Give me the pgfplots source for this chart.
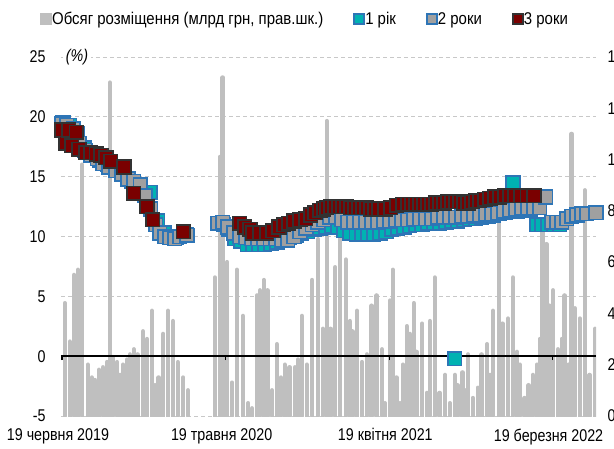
\documentclass[border=0pt]{standalone}
\usepackage{fontspec}
\setmainfont{Liberation Sans}[FakeStretch=0.84]
\newfontfamily\legfont{Liberation Sans}[FakeStretch=0.88]
\usepackage{pgfplots}
\pgfplotsset{compat=1.18}
\definecolor{barg}{RGB}{191,191,191}
\definecolor{teal1}{RGB}{0,178,178}
\definecolor{blueb}{RGB}{46,117,182}
\definecolor{grey2}{RGB}{160,160,160}
\definecolor{red3}{RGB}{122,0,0}
\definecolor{redb}{RGB}{50,50,50}
\definecolor{gridc}{RGB}{200,200,200}
\pgfplotsset{base/.style={scale only axis, width=535pt, height=359pt,
  xmin=-2, xmax=1093, at={(0pt,0pt)}, anchor=south west,
  font=\fontsize{17}{20}\selectfont,
  /pgf/number format/assume math mode=true}}
\begin{document}
\begin{tikzpicture}
% background: grid, left and date labels
\begin{axis}[base, ymin=-5, ymax=25, ytick={-5,0,...,25}, clip=false,
  ymajorgrids, grid style={gridc, line width=0.8pt, dash pattern=on 4pt off 3pt},
  axis line style={draw=none}, major tick length=0pt,
  xtick={0,335,670,1004},
  xticklabels={19 червня 2019, 19 травня 2020, 19 квітня 2021, 19 березня 2022},
  xticklabel style={yshift=-9pt, xshift=-4pt},
  yticklabel style={xshift=-12pt}]
\addplot[draw=none] coordinates {(0,0)};
\node[fill=white, inner sep=3pt, font=\itshape\fontsize{17}{20}\selectfont] at (rel axis cs:0.03,1) {(\%)};
\end{axis}
% bars on the right axis
\begin{axis}[base, ymin=0, ymax=14, ytick={0,2,...,14},
  axis y line*=right, axis x line=none,
  axis line style={draw=none}, major tick length=0pt,
  yticklabel style={xshift=8pt}]
\addplot[ycomb, barg, line width=4.5pt, line cap=round] table {
x y
6 4.4
16 2.9
25 5.5
33 5.7
41 9.8
53 2.0
61 1.5
68 1.4
76 1.8
84 1.9
92 2.1
98 13.0
104 2.3
113 2.1
119 1.6
125 2.0
133 2.2
139 2.4
147 2.6
155 2.4
166 3.3
174 3.0
184 4.1
190 1.2
198 1.5
207 3.2
217 4.1
227 3.7
237 2.1
248 1.5
258 1.0
313 5.4
323 10.1
329 13.2
338 6.0
348 1.3
358 5.7
370 3.9
381 0.5
389 0.3
399 4.7
405 4.9
413 5.3
421 4.9
430 1.0
440 2.8
448 1.5
456 2.0
466 1.9
477 1.9
483 2.2
491 3.9
501 2.0
512 5.3
524 6.9
534 3.4
542 11.5
550 3.4
559 5.8
569 7.6
581 6.1
589 3.7
595 3.3
604 4.1
614 2.1
624 2.4
634 4.3
644 4.7
655 2.6
661 0.5
671 4.5
677 5.7
685 1.5
692 0.5
698 2.0
706 3.5
712 3.2
720 4.4
726 2.5
737 3.6
747 0.9
753 3.7
763 5.4
773 0.9
784 1.6
794 0.5
804 1.6
810 1.2
820 1.7
827 1.0
831 2.4
841 0.7
851 1.1
859 2.4
870 2.8
876 1.6
882 4.1
894 7.8
902 3.6
913 3.8
923 5.4
931 2.5
937 2.0
947 0.7
955 1.2
964 1.6
972 2.0
978 3.0
984 7.2
992 6.7
998 4.3
1005 4.9
1015 2.6
1023 3.0
1029 4.7
1037 2.0
1043 11.0
1050 4.2
1060 3.8
1070 8.8
1080 1.6
1091 3.4
};
\end{axis}
% yields on the left axis
\begin{axis}[base, ymin=-5, ymax=25, clip=false,
  axis y line=none, axis x line*=middle,
  x axis line style={black, line width=2pt},
  xtick={0,335,670,1004}, xticklabels={}, xtick align=outside,
  major tick length=4pt, tick style={black, line width=1.5pt},
  legend columns=-1,
  legend style={at={(-0.045,1.106)}, anchor=west, draw=none, fill=none,
    font=\legfont\fontsize{17}{20}\selectfont,
    /tikz/every odd column/.append style={column sep=0pt},
    /tikz/every even column/.append style={column sep=30pt},
    nodes={inner sep=1pt}},
  legend image code/.code={\draw[#1] plot coordinates {(0.2cm,0cm)};}]
\addlegendimage{only marks, mark=square*, mark size=5.5pt, mark options={fill=barg, draw=barg, line width=0.5pt, rounded corners=1.5pt}}
\addlegendentry{Обсяг розміщення (млрд грн, прав.шк.)}
\addplot[only marks, mark=square*, mark size=6.8pt, mark options={fill=teal1, draw=blueb, line width=1.6pt}, legend image post style={mark size=5pt}] table {
x y
2 19.5
16 19.3
31 18.6
45 17.4
61 16.9
78 16.4
94 16.0
110 15.5
127 15.2
143 14.6
160 14.2
180 13.7
196 11.3
209 10.3
221 10.0
235 9.9
254 10.2
321 11.1
331 11.0
342 10.6
354 9.8
366 9.6
379 9.3
391 9.3
403 9.3
415 9.3
428 9.4
440 9.5
452 9.7
466 9.9
479 10.1
491 10.3
503 10.4
516 10.6
528 10.7
540 10.8
552 10.9
565 10.8
577 10.5
589 10.3
602 10.2
614 10.2
626 10.2
638 10.2
651 10.3
663 10.4
675 10.6
687 10.7
700 10.8
712 10.9
724 11.0
737 11.0
749 11.1
761 11.1
773 11.1
786 11.2
798 11.3
804 -0.2
810 11.3
823 11.4
835 11.5
847 11.5
859 11.6
872 11.7
884 11.8
896 11.9
908 12.0
923 14.5
933 12.1
945 12.2
958 12.3
972 11.0
982 11.0
994 11.0
1007 11.0
1019 11.0
};
\addlegendentry{1 рік}
\addplot[only marks, mark=square*, mark size=6.8pt, mark options={fill=grey2, draw=blueb, line width=1.6pt}, legend image post style={mark size=5pt}] table {
x y
0 19.4
10 19.3
23 19.0
35 17.8
47 17.2
59 16.8
72 16.5
84 16.1
96 15.8
110 15.5
123 15.2
135 14.8
147 14.6
160 14.3
170 13.4
182 12.3
192 11.0
200 10.3
211 10.0
221 9.9
231 9.8
241 10.0
256 10.1
319 11.1
329 11.2
340 10.8
352 10.3
364 10.0
376 9.9
389 9.8
401 9.8
413 9.8
426 9.8
438 9.8
450 9.7
462 9.7
475 10.0
487 10.4
499 10.7
512 11.0
524 11.2
536 11.4
548 11.6
561 11.6
573 11.4
585 11.2
597 11.2
610 11.2
622 11.2
634 11.2
646 11.2
659 11.3
671 11.3
683 11.4
696 11.4
708 11.4
720 11.5
732 11.5
745 11.5
757 11.5
769 11.6
782 11.6
794 11.6
806 11.6
818 11.7
831 11.7
843 11.8
855 11.8
868 11.9
880 11.9
892 12.0
904 12.1
917 12.2
929 12.3
941 12.4
953 12.4
966 12.4
978 12.4
990 13.3
1003 11.2
1013 11.2
1023 11.2
1033 11.5
1043 11.7
1054 11.8
1064 11.9
1074 11.9
1093 12.0
};
\addlegendentry{2 роки}
\addplot[only marks, mark=square*, mark size=6.8pt, mark options={fill=red3, draw=redb, line width=1.6pt}, legend image post style={mark size=5pt}] table {
x y
0 18.9
8 17.8
14 18.9
20 17.6
29 18.7
35 17.3
49 17.0
59 17.0
70 16.9
80 16.8
90 16.6
100 16.3
127 15.8
147 13.6
174 12.5
186 11.4
248 10.4
364 11.1
374 10.8
385 10.6
391 10.3
405 10.3
419 10.3
432 10.5
444 10.8
454 11.0
464 11.1
475 11.3
487 11.4
499 11.5
509 11.8
518 12.0
528 12.2
536 12.3
542 12.4
550 12.5
559 12.5
567 12.5
575 12.5
583 12.5
591 12.4
599 12.4
608 12.4
616 12.4
624 12.4
632 12.3
640 12.3
649 12.3
661 12.3
673 12.4
685 12.6
698 12.7
708 12.7
716 12.7
724 12.7
732 12.7
741 12.7
749 12.7
757 12.7
765 12.8
773 12.8
782 12.8
790 12.9
798 12.9
806 12.9
814 12.9
823 12.8
831 12.8
839 12.9
847 13.0
855 13.0
866 13.1
876 13.2
886 13.3
896 13.3
906 13.4
917 13.4
927 13.4
939 13.4
952 13.4
966 13.4
};
\addlegendentry{3 роки}
\end{axis}
\pgfresetboundingbox
\useasboundingbox (-61pt,-32pt) rectangle (553pt,416pt);
\end{tikzpicture}
\end{document}
